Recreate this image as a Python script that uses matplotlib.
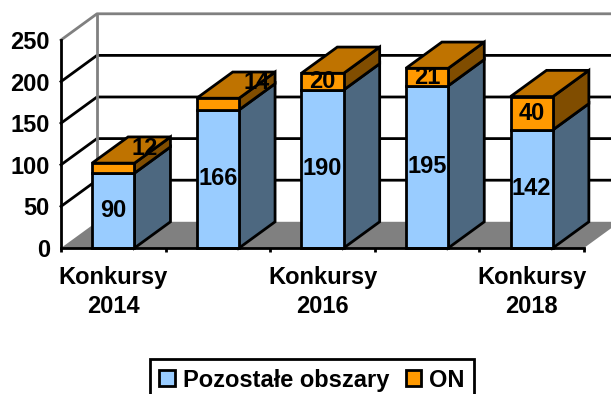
import matplotlib.pyplot as plt
from matplotlib.patches import Polygon
import numpy as np

plt.rcParams['font.family'] = ['Liberation Sans', 'DejaVu Sans']
plt.rcParams['font.weight'] = 'bold'
plt.rcParams['font.size'] = 17

# data
konkursy = ['Konkursy\n2014', '', 'Konkursy\n2016', '', 'Konkursy\n2018']
pozostale = [90, 166, 190, 195, 142]
on = [12, 14, 20, 21, 40]
yticks = [0, 50, 100, 150, 200, 250]

# 3d look, in data units
dx = 0.344
dy = 31.5
bar_w = 0.405
# the two small labels were moved by hand in the original
on_offset = {0: (0.30, 24), 1: (0.37, 26)}

blue, blue_side = '#99CCFF', '#4D6880'
orange, orange_top, orange_side = '#FF9900', '#BF7300', '#804D00'
grey = '#808080'
lw = 2

W, H = 611, 394
fig = plt.figure(figsize=(W/100, H/100), dpi=100)
ax = fig.add_axes([61/W, (H-248)/H, 523/W, 208/H])
ax.set_xlim(0, 5)
ax.set_ylim(0, 250)

# walls and floor
ax.fill([0, 5, 5+dx, dx], [0, 0, dy, dy], color=grey, lw=0, zorder=1, clip_on=False)
for v in yticks[1:-1]:
    ax.plot([0, dx, 5+dx], [v, v+dy, v+dy], color='k', lw=lw, zorder=2, clip_on=False)
ax.plot([0, dx, 5+dx], [250, 250+dy, 250+dy], color=grey, lw=lw, zorder=2, clip_on=False)
ax.plot([dx, dx], [dy, 250+dy], color=grey, lw=lw, zorder=2, clip_on=False)

# bars
x = np.arange(5) + 0.5
for i in range(5):
    z = 3 + i
    a, t = pozostale[i], pozostale[i] + on[i]
    l, r = x[i] - bar_w/2, x[i] + bar_w/2
    ax.add_patch(Polygon([(r, 0), (r+dx, dy), (r+dx, a+dy), (r, a)], fc=blue_side, ec='k', lw=lw, zorder=z, clip_on=False))
    ax.add_patch(Polygon([(r, a), (r+dx, a+dy), (r+dx, t+dy), (r, t)], fc=orange_side, ec='k', lw=lw, zorder=z, clip_on=False))
    ax.add_patch(Polygon([(l, t), (r, t), (r+dx, t+dy), (l+dx, t+dy)], fc=orange_top, ec='k', lw=lw, zorder=z, clip_on=False))

b1 = ax.bar(x, pozostale, bar_w, color=blue, edgecolor='k', linewidth=lw, zorder=8, label='Pozostałe obszary', clip_on=False)
b2 = ax.bar(x, on, bar_w, bottom=pozostale, color=orange, edgecolor='k', linewidth=lw, zorder=8, label='ON', clip_on=False)

for i in range(5):
    ax.text(x[i], pozostale[i]/2, str(pozostale[i]), ha='center', va='center', zorder=10)
    ox, oy = on_offset.get(i, (0, 0))
    ax.text(x[i]+ox, pozostale[i]+on[i]/2+oy, str(on[i]), ha='center', va='center', zorder=10)

# axes
for s in ['top', 'right']:
    ax.spines[s].set_visible(False)
for s in ['left', 'bottom']:
    ax.spines[s].set_linewidth(lw)
    ax.spines[s].set_zorder(9)
ax.set_yticks(yticks)
ax.set_xticks(np.arange(6))
ax.set_xticklabels([])
ax.set_xticks(x, konkursy, minor=True)
ax.tick_params(axis='x', which='major', length=3, width=lw)
ax.tick_params(axis='x', which='minor', length=0, pad=13)
ax.tick_params(axis='y', length=0, pad=8)
for t in ax.get_xticklabels(minor=True):
    t.set_linespacing(1.32)

leg = fig.legend(handles=[b1, b2], loc='lower center', bbox_to_anchor=(312/W, -7/H), ncol=2,
                 frameon=True, fancybox=False, edgecolor='k', framealpha=1,
                 handlelength=0.65, handleheight=0.65, handletextpad=0.35, columnspacing=0.7,
                 borderpad=0.4, borderaxespad=0)
leg.get_frame().set_linewidth(lw)

fig.savefig('out.png', dpi=100)
